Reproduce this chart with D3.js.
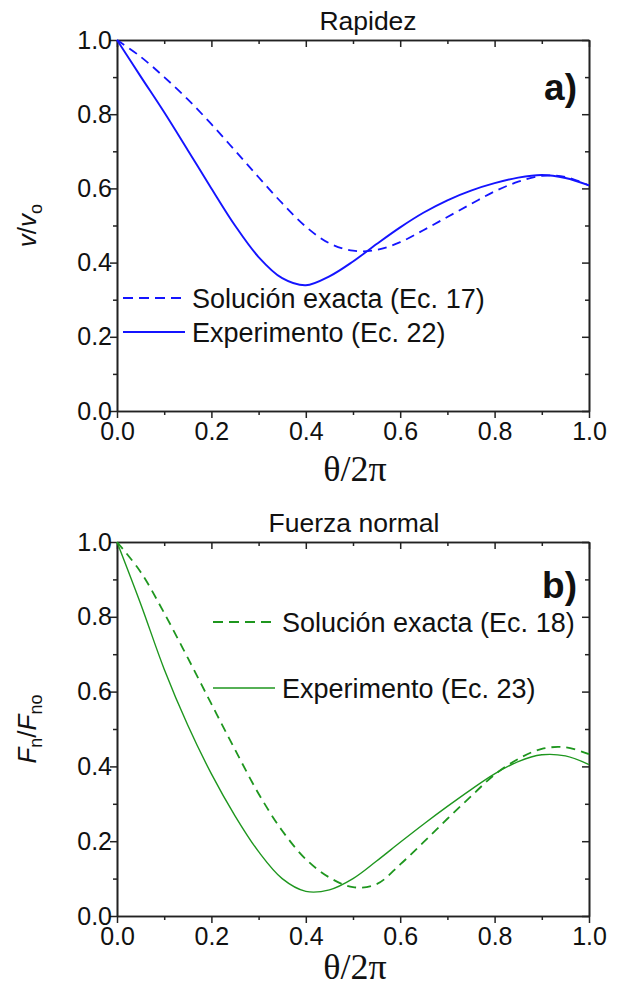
<!DOCTYPE html>
<html>
<head>
<meta charset="utf-8">
<script src="https://cdn.jsdelivr.net/npm/d3@7"></script>
<style>
html,body{margin:0;padding:0;background:#fff;}
svg{display:block;}
text{font-family:"Liberation Sans",Arial,sans-serif;fill:#111;}
</style>
</head>
<body>
<svg id="chart" width="623" height="988"></svg>
<script>
// ---------- data ----------
const majorTicks = [0.0, 0.2, 0.4, 0.6, 0.8, 1.0];
const minorTicks = [0.1, 0.3, 0.5, 0.7, 0.9];

const titles = ["Rapidez", "Fuerza normal"];
const panelTags = ["a)", "b)"];

// theta/2pi sample positions (shared by all curves)
const theta = [0,0.05,0.1,0.15,0.2,0.25,0.3,0.35,0.4,0.45,0.5,0.55,0.6,0.65,0.7,0.75,0.8,0.85,0.9,0.95,1.0];

// Panel a: speed v/vo
const speedExact = [1,0.955,0.9,0.84,0.773,0.702,0.63,0.56,0.497,0.452,0.432,0.434,0.455,0.488,0.523,0.558,0.592,0.618,0.634,0.631,0.608];
const speedExp   = [1,0.902,0.805,0.703,0.6,0.5,0.415,0.358,0.339,0.363,0.403,0.45,0.495,0.535,0.568,0.594,0.614,0.629,0.636,0.628,0.608];

// Panel b: normal force Fn/Fno
const forceExact = [1,0.92,0.81,0.69,0.567,0.445,0.327,0.228,0.152,0.103,0.077,0.085,0.138,0.198,0.26,0.32,0.378,0.42,0.447,0.451,0.433];
const forceExp   = [1,0.835,0.66,0.51,0.38,0.268,0.172,0.1,0.066,0.07,0.1,0.147,0.197,0.246,0.293,0.338,0.38,0.413,0.431,0.428,0.405];

const legendA = ["Solución exacta (Ec. 17)", "Experimento (Ec. 22)"];
const legendB = ["Solución exacta (Ec. 18)", "Experimento (Ec. 23)"];

// ---------- drawing ----------
const svg = d3.select("#chart");
const left = 117, right = 589;
const blue = "#1414ff", green = "#1e961e";
const axisColor = "#222";

function drawPanel(opt) {
  const x = d3.scaleLinear().domain([0, 1]).range([left, right]);
  const y = d3.scaleLinear().domain([0, 1]).range([opt.bottom, opt.top]);
  const g = svg.append("g");

  const styleAxis = sel => {
    sel.select(".domain").attr("stroke", axisColor).attr("stroke-width", 1.6);
    sel.selectAll(".tick line").attr("stroke", axisColor).attr("stroke-width", 1.5);
    sel.selectAll(".tick text").attr("fill", "#111").style("font-size", "25px")
       .style("font-family", "'Liberation Sans', Arial, sans-serif");
  };
  const fmt = d3.format(".1f");

  // bottom
  g.append("g").attr("transform", `translate(0,${opt.bottom})`)
    .call(d3.axisBottom(x).tickValues(majorTicks).tickFormat(fmt).tickSizeInner(7).tickSizeOuter(0).tickPadding(4))
    .call(styleAxis);
  g.append("g").attr("transform", `translate(0,${opt.bottom})`)
    .call(d3.axisBottom(x).tickValues(minorTicks).tickFormat("").tickSizeInner(4).tickSizeOuter(0))
    .call(styleAxis);
  // top (inward)
  g.append("g").attr("transform", `translate(0,${opt.top})`)
    .call(d3.axisTop(x).tickValues(majorTicks).tickFormat("").tickSizeInner(-7).tickSizeOuter(0))
    .call(styleAxis);
  g.append("g").attr("transform", `translate(0,${opt.top})`)
    .call(d3.axisTop(x).tickValues(minorTicks).tickFormat("").tickSizeInner(-4).tickSizeOuter(0))
    .call(styleAxis);
  // left
  g.append("g").attr("transform", `translate(${left},0)`)
    .call(d3.axisLeft(y).tickValues(majorTicks).tickFormat(fmt).tickSizeInner(7).tickSizeOuter(0).tickPadding(-2))
    .call(styleAxis);
  g.append("g").attr("transform", `translate(${left},0)`)
    .call(d3.axisLeft(y).tickValues(minorTicks).tickFormat("").tickSizeInner(4).tickSizeOuter(0))
    .call(styleAxis);
  // right (inward)
  g.append("g").attr("transform", `translate(${right},0)`)
    .call(d3.axisRight(y).tickValues(majorTicks).tickFormat("").tickSizeInner(-7).tickSizeOuter(0))
    .call(styleAxis);
  g.append("g").attr("transform", `translate(${right},0)`)
    .call(d3.axisRight(y).tickValues(minorTicks).tickFormat("").tickSizeInner(-4).tickSizeOuter(0))
    .call(styleAxis);

  // curves
  const line = d3.line().x((d, i) => x(theta[i])).y(d => y(d)).curve(d3.curveCatmullRom.alpha(0.5));
  g.append("path").datum(opt.exact).attr("d", line).attr("fill", "none")
    .attr("stroke", opt.color).attr("stroke-width", 1.8).attr("stroke-dasharray", "9,6");
  g.append("path").datum(opt.exp).attr("d", line).attr("fill", "none")
    .attr("stroke", opt.color).attr("stroke-width", opt.solidWidth);

  // legend
  const lg = g.append("g");
  opt.legend.forEach((label, i) => {
    const ly = opt.legendY[i];
    lg.append("line").attr("x1", opt.legendX).attr("x2", opt.legendX + 62)
      .attr("y1", ly).attr("y2", ly).attr("stroke", opt.color)
      .attr("stroke-width", i === 0 ? 1.8 : opt.solidWidth)
      .attr("stroke-dasharray", i === 0 ? "10,6" : null);
    lg.append("text").attr("x", opt.legendX + 69).attr("y", ly + 9.5)
      .style("font-size", "27px").text(label);
  });

  // title
  g.append("text").attr("x", opt.titleX).attr("y", opt.top - 10).attr("text-anchor", "middle")
    .style("font-size", "26.5px").text(opt.title);

  // panel tag
  g.append("text").attr("x", 577).attr("y", opt.top + opt.tagDy).attr("text-anchor", "end")
    .style("font-size", "37px").style("font-weight", "bold").text(opt.tag);

  // x title
  g.append("text").attr("x", (left + right) / 2 + 2).attr("y", opt.bottom + opt.xtDy)
    .attr("text-anchor", "middle")
    .style("font-family", "'Liberation Serif','Times New Roman',serif").style("font-size", "36px")
    .text("θ/2π");

  // y title
  const yt = g.append("text")
    .attr("transform", `translate(36,${(opt.top + opt.bottom) / 2}) rotate(-90)`)
    .attr("text-anchor", "middle").style("font-size", "26px");
  opt.ylabel(yt);
}

drawPanel({
  top: 40, bottom: 411, color: blue, solidWidth: 1.9,
  exact: speedExact, exp: speedExp,
  legend: legendA, legendX: 123, legendY: [298, 332],
  title: titles[0], titleX: 368, tag: panelTags[0], tagDy: 60, xtDy: 70,
  ylabel: t => {
    t.append("tspan").style("font-style", "italic").text("v");
    t.append("tspan").text("/");
    t.append("tspan").style("font-style", "italic").text("v");
    t.append("tspan").attr("dy", 6).style("font-size", "18px").text("o");
  }
});

drawPanel({
  top: 542, bottom: 916, color: green, solidWidth: 1.4,
  exact: forceExact, exp: forceExp,
  legend: legendB, legendX: 213, legendY: [622, 688],
  title: titles[1], titleX: 354, tag: panelTags[1], tagDy: 56, xtDy: 63,
  ylabel: t => {
    t.append("tspan").style("font-style", "italic").text("F");
    t.append("tspan").attr("dy", 6).style("font-size", "18px").text("n");
    t.append("tspan").attr("dy", -6).text("/");
    t.append("tspan").style("font-style", "italic").text("F");
    t.append("tspan").attr("dy", 6).style("font-size", "18px").text("no");
  }
});
</script>
</body>
</html>
